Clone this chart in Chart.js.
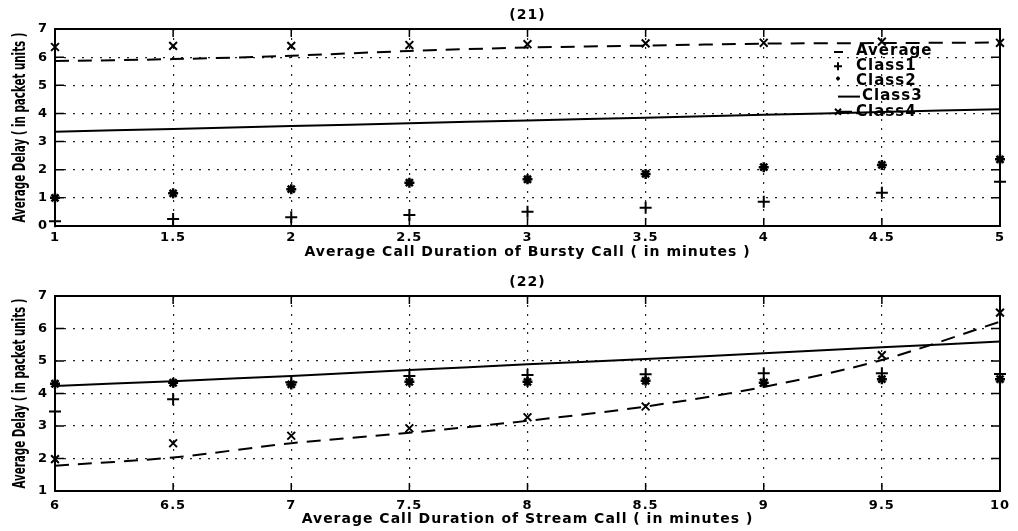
<!DOCTYPE html>
<html>
<head>
<meta charset="utf-8">
<script src="https://cdn.jsdelivr.net/npm/chart.js@4.4.1/dist/chart.umd.min.js"></script>
<style>
  html, body { margin: 0; padding: 0; background: #fff; }
  #wrap { width: 1018px; height: 531px; position: relative; }
  .box { position: absolute; left: 0; width: 1018px; }
  #top { top: 0; height: 265px; }
  #bot { top: 265px; height: 266px; }
</style>
</head>
<body>
<div id="wrap">
  <div class="box" id="top"><canvas id="chart21"></canvas></div>
  <div class="box" id="bot"><canvas id="chart22"></canvas></div>
</div>
<script>
// (21) average call duration of bursty call
const burstyX = [1, 1.5, 2, 2.5, 3, 3.5, 4, 4.5, 5];
const burstyXTicks = ['1', '1.5', '2', '2.5', '3', '3.5', '4', '4.5', '5'];
const burstyYTicks = ['0', '1', '2', '3', '4', '5', '6', '7'];
const burstyAverage = [3.35, 3.45, 3.55, 3.65, 3.75, 3.85, 3.95, 4.05, 4.15];
const burstyClass1 = [0.17, 0.25, 0.31, 0.39, 0.51, 0.65, 0.86, 1.18, 1.57];
const burstyClass2 = [1.0, 1.16, 1.31, 1.54, 1.66, 1.85, 2.09, 2.17, 2.37];
const burstyClass3 = [5.86, 5.93, 6.05, 6.22, 6.34, 6.41, 6.48, 6.5, 6.52];
const burstyClass4 = [6.36, 6.4, 6.4, 6.43, 6.46, 6.49, 6.51, 6.55, 6.51];

// (22) average call duration of stream call
const streamX = [6, 6.5, 7, 7.5, 8, 8.5, 9, 9.5, 10];
const streamXTicks = ['6', '6.5', '7', '7.5', '8', '8.5', '9', '9.5', '10'];
const streamYTicks = ['1', '2', '3', '4', '5', '6', '7'];
const streamAverage = [4.23, 4.38, 4.54, 4.72, 4.9, 5.06, 5.24, 5.42, 5.6];
const streamClass1 = [3.45, 3.82, 4.35, 4.54, 4.57, 4.59, 4.62, 4.62, 4.6];
const streamClass2 = [4.3, 4.33, 4.28, 4.36, 4.36, 4.39, 4.33, 4.44, 4.44];
const streamClass3 = [1.78, 2.03, 2.47, 2.79, 3.16, 3.6, 4.2, 5.03, 6.21];
const streamClass4 = [1.98, 2.47, 2.7, 2.93, 3.27, 3.6, 4.33, 5.18, 6.49];

const yTitle = 'Average Delay ( in packet units )';

Chart.defaults.font.family = '"DejaVu Sans", sans-serif';
Chart.defaults.color = '#000';

function makeDatasets(xs, avg, c1, c2, c3, c4) {
    const pts = ys => xs.map((x, i) => ({ x: x, y: ys[i] }));
    const marks = { showLine: false, clip: false, borderColor: '#000', backgroundColor: '#000' };
    return [
        { label: 'Average', mark: 'dash', data: pts(avg), borderColor: '#000', borderWidth: 2, pointRadius: 0, tension: 0.3 },
        { label: 'Class1', mark: 'cross', data: pts(c1), ...marks, pointStyle: 'cross', pointRadius: 6, pointBorderWidth: 2 },
        { label: 'Class2', mark: 'star', data: pts(c2), ...marks, pointStyle: 'star', pointRadius: 5, pointBorderWidth: 2.5 },
        { label: 'Class3', mark: 'line', data: pts(c3), borderColor: '#000', borderWidth: 2, borderDash: [14, 9], pointRadius: 0, tension: 0.3 },
        { label: 'Class4', mark: 'xline', data: pts(c4), ...marks, pointStyle: 'crossRot', pointRadius: 5.5, pointBorderWidth: 2 }
    ];
}

// old scanned print looks wide-spaced
const wideText = {
    id: 'wideText',
    beforeDraw(chart) { chart.ctx.letterSpacing = '1px'; }
};

// MATLAB style box + inward ticks
const matlabAxes = {
    id: 'matlabAxes',
    beforeDatasetsDraw(chart) {
        const { ctx, chartArea: a, scales } = chart;
        ctx.save();
        ctx.strokeStyle = '#000';
        ctx.lineWidth = 1.5;
        ctx.beginPath();
        scales.x.ticks.forEach(t => {
            const px = scales.x.getPixelForValue(t.value);
            ctx.moveTo(px, a.bottom); ctx.lineTo(px, a.bottom - 8);
            ctx.moveTo(px, a.top); ctx.lineTo(px, a.top + 8);
        });
        scales.y.ticks.forEach(t => {
            const py = scales.y.getPixelForValue(t.value);
            ctx.moveTo(a.left, py); ctx.lineTo(a.left + 9, py);
            ctx.moveTo(a.right, py); ctx.lineTo(a.right - 9, py);
        });
        ctx.stroke();
        ctx.lineWidth = 2;
        ctx.strokeRect(a.left, a.top, a.right - a.left, a.bottom - a.top);
        ctx.restore();
    }
};

// "(21)" / "(22)" headings and the condensed y title
const plotText = {
    id: 'plotText',
    afterDraw(chart, args, opts) {
        const { ctx, chartArea: a } = chart;
        ctx.save();
        ctx.fillStyle = '#000';
        ctx.textAlign = 'center';
        ctx.textBaseline = 'middle';
        ctx.font = 'bold 14px "DejaVu Sans"';
        ctx.fillText(opts.heading, (a.left + a.right) / 2, a.top - 14);

        ctx.letterSpacing = '0px';
        ctx.font = 'bold 17px "DejaVu Sans Condensed", "DejaVu Sans"';
        const w = ctx.measureText(yTitle).width;
        ctx.translate(21, (a.top + a.bottom) / 2);
        ctx.rotate(-Math.PI / 2);
        ctx.scale(opts.titleLen / w, 1);
        ctx.fillText(yTitle, 0, 0);
        ctx.restore();
    }
};

// legend drawn inside the axes, like MATLAB's legend box
const insetLegend = {
    id: 'insetLegend',
    afterDatasetsDraw(chart, args, opts) {
        if (!opts.show) return;
        const { ctx, chartArea: a } = chart;
        const x0 = a.right - 162, y0 = a.top + 22, rowH = 15.2;
        ctx.save();
        ctx.font = 'bold 15px "DejaVu Sans"';
        ctx.fillStyle = '#000';
        ctx.strokeStyle = '#000';
        ctx.lineWidth = 2;
        ctx.textBaseline = 'middle';
        chart.data.datasets.forEach((ds, i) => {
            const y = y0 + i * rowH;
            let tx = x0 + 18;
            ctx.beginPath();
            if (ds.mark === 'dash') {
                ctx.moveTo(x0 - 4, y + 1); ctx.lineTo(x0 + 5, y + 1);
            } else if (ds.mark === 'cross') {
                ctx.moveTo(x0 - 4, y); ctx.lineTo(x0 + 4, y);
                ctx.moveTo(x0, y - 4); ctx.lineTo(x0, y + 4);
            } else if (ds.mark === 'star') {
                ctx.moveTo(x0 - 2, y - 3); ctx.lineTo(x0 + 2, y - 3);
                ctx.moveTo(x0, y - 5); ctx.lineTo(x0, y - 1);
            } else if (ds.mark === 'line') {
                ctx.moveTo(x0, y); ctx.lineTo(x0 + 22, y);
                tx = x0 + 24;
            } else {
                ctx.moveTo(x0 - 3, y - 3); ctx.lineTo(x0 + 3, y + 3);
                ctx.moveTo(x0 - 3, y + 3); ctx.lineTo(x0 + 3, y - 3);
                ctx.moveTo(x0, y); ctx.lineTo(x0 + 14, y);
            }
            ctx.stroke();
            ctx.fillText(ds.label, tx, y);
        });
        ctx.restore();
    }
};

function makeChart(id, cfg) {
    return new Chart(document.getElementById(id), {
        type: 'line',
        data: { datasets: cfg.datasets },
        plugins: [wideText, matlabAxes, plotText, insetLegend],
        options: {
            responsive: true,
            maintainAspectRatio: false,
            devicePixelRatio: 1,
            animation: false,
            layout: { padding: { left: 0, right: 18, top: cfg.top, bottom: 0 } },
            plugins: {
                legend: { display: false },
                tooltip: { enabled: false },
                plotText: { heading: cfg.heading, titleLen: cfg.titleLen },
                insetLegend: { show: cfg.legend }
            },
            scales: {
                x: {
                    type: 'linear',
                    min: cfg.xMin, max: cfg.xMax,
                    afterFit: s => { s.height = cfg.xHeight; },
                    ticks: { stepSize: 0.5, padding: cfg.xPad, font: { size: 13, weight: 'bold' },
                             callback: (v, i) => cfg.xTicks[i] },
                    grid: { color: '#222', lineWidth: 1.2, drawTicks: false },
                    border: { display: false, dash: [2, 7] },
                    title: { display: true, text: cfg.xTitle, font: { size: 14, weight: 'bold' },
                             padding: { top: 0, bottom: cfg.xTitlePad } }
                },
                y: {
                    min: cfg.yMin, max: cfg.yMax,
                    afterFit: s => { s.width = 55; },
                    ticks: { stepSize: 1, padding: 7, font: { size: 13, weight: 'bold' },
                             callback: (v, i) => cfg.yTicks[i] },
                    grid: { color: '#222', lineWidth: 1.2, drawTicks: false },
                    border: { display: false, dash: [2, 7] }
                }
            }
        }
    });
}

makeChart('chart21', {
    datasets: makeDatasets(burstyX, burstyAverage, burstyClass1, burstyClass2, burstyClass3, burstyClass4),
    heading: '(21)', legend: true, top: 29, titleLen: 190,
    xMin: 1, xMax: 5, xTicks: burstyXTicks, xHeight: 39, xPad: 4, xTitlePad: 4.5,
    xTitle: 'Average Call Duration of Bursty Call ( in minutes )',
    yMin: 0, yMax: 7, yTicks: burstyYTicks
});

makeChart('chart22', {
    datasets: makeDatasets(streamX, streamAverage, streamClass1, streamClass2, streamClass3, streamClass4),
    heading: '(22)', legend: false, top: 31, titleLen: 190,
    xMin: 6, xMax: 10, xTicks: streamXTicks, xHeight: 40, xPad: 7, xTitlePad: 3,
    xTitle: 'Average Call Duration of Stream Call ( in minutes )',
    yMin: 1, yMax: 7, yTicks: streamYTicks
});
</script>
</body>
</html>
